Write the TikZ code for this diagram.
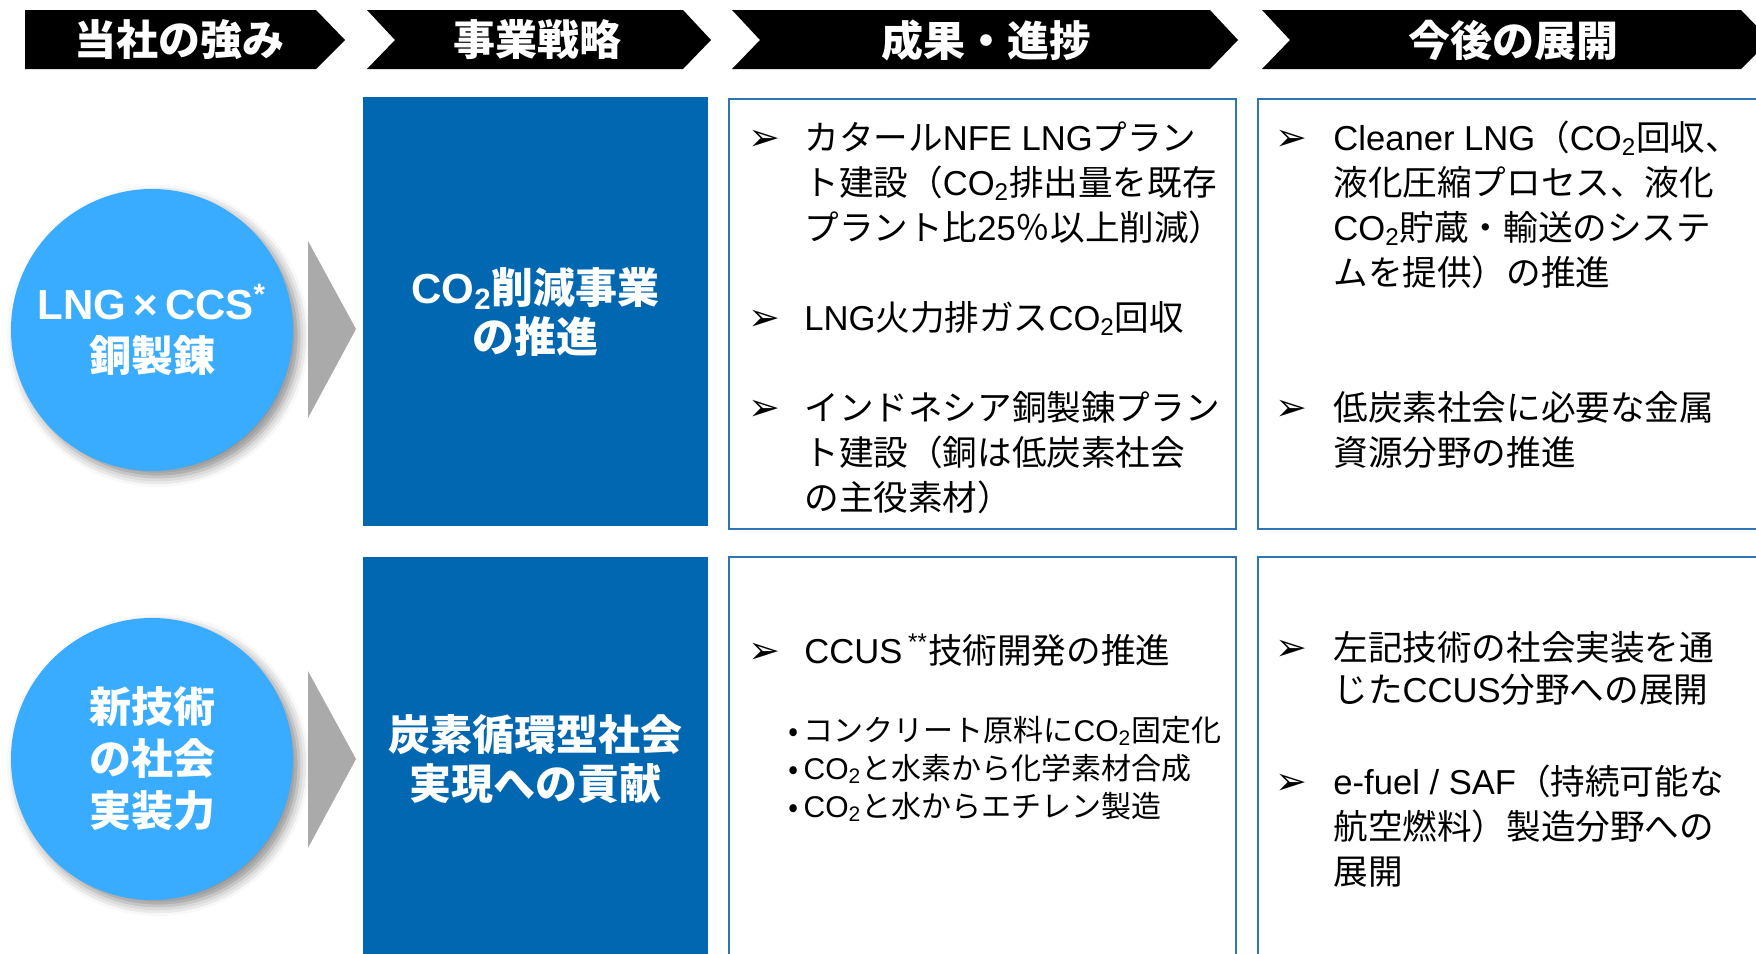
\documentclass[tikz,border=0pt]{standalone}
\usepackage{fontspec}
\setmainfont{Noto Sans CJK JP}
\newfontfamily\en{Liberation Sans}
\newfontfamily\dingfont{DejaVu Sans}
\usetikzlibrary{shadows.blur}
\definecolor{ballblue}{RGB}{58,172,255}
\definecolor{boxblue}{RGB}{0,103,176}
\definecolor{rimblue}{RGB}{46,117,182}
\definecolor{pointgray}{RGB}{170,170,170}
\newcommand{\cotwo}{{\en CO\textsubscript{2}}}
\tikzset{
  head/.style={text=white,font=\fontsize{21}{24}\selectfont\bfseries},
  ball/.style={circle,fill=ballblue,minimum size=141pt,text=white,align=center,
    font=\fontsize{21}{26}\selectfont\bfseries,
    blur shadow={shadow xshift=3pt,shadow yshift=-3pt,shadow blur radius=5pt,shadow opacity=45}},
  strat/.style={fill=boxblue,text=white,align=center,font=\fontsize{21}{24.5}\selectfont\bfseries},
  rim/.style={draw=rimblue,line width=1pt},
  % base of a multi-line node is its last line
  item/.style={anchor=base west,align=left,font=\fontsize{17.3}{22.5}\selectfont},
  arrowbul/.style={anchor=base,font=\dingfont\bfseries\fontsize{19}{20}\selectfont},
  sub/.style={anchor=base west,align=left,font=\fontsize{15}{19}\selectfont}
}
\begin{document}
\begin{tikzpicture}[x=0.5pt,y=-0.5pt,inner sep=0pt]
  \useasboundingbox (0,0) rectangle (1756,953);
  \clip (0,0) rectangle (1756,953);
  % header chevrons
  \fill (25,10) -- (316,10) -- (345,40) -- (316,69) -- (25,69) -- cycle;
  \fill (367,10) -- (683,10) -- (711,40) -- (683,69) -- (367,69) -- (395,40) -- cycle;
  \fill (732,10) -- (1210,10) -- (1238,40) -- (1210,69) -- (732,69) -- (760,40) -- cycle;
  \fill (1262,10) -- (1741,10) -- (1770,40) -- (1741,69) -- (1262,69) -- (1290,40) -- cycle;
  \path node (h1) [head] at (179,40) {当社の強み}
        node (h2) [head] at (537,40) {事業戦略}
        node (h3) [head] at (986,40) {成果・進捗}
        node (h4) [head] at (1513,40) {今後の展開};
  % strengths and strategy
  \node (s1) [ball] at (152,330) {{\en LNG\,×\,CCS\textsuperscript{*}}\\銅製錬};
  \node (s2) [ball] at (152,759) {新技術\\の社会\\実装力};
  \fill[pointgray] (308,241) -- (356,329) -- (308,418) -- cycle;
  \fill[pointgray] (308,671) -- (356,759) -- (308,848) -- cycle;
  \node (b1) [strat,minimum width=172.5pt,minimum height=214.5pt] at (535.5,311.5) {\cotwo{}削減事業\\の推進};
  \node (b2) [strat,minimum width=172.5pt,minimum height=202pt] at (535.5,759) {炭素循環型社会\\実現への貢献};
  % result and outlook boxes
  \draw[rim] (729,99) rectangle (1236,529);
  \draw[rim] (1258,99) rectangle (1770,529);
  \draw[rim] (729,557) rectangle (1236,970);
  \draw[rim] (1258,557) rectangle (1770,970);
  \path node (a1) [arrowbul] at (764,150) {➢}
        node (a2) [arrowbul] at (764,330) {➢}
        node (a3) [arrowbul] at (764,420) {➢}
        node (a4) [arrowbul] at (764,663) {➢}
        node (a5) [arrowbul] at (1291,150) {➢}
        node (a6) [arrowbul] at (1291,420) {➢}
        node (a7) [arrowbul] at (1291,660) {➢}
        node (a8) [arrowbul] at (1291,794) {➢};
  \node (p1) [item] at (804,240) {カタール{\en NFE LNG}プラン\\ト建設（\cotwo{}排出量を既存\\プラント比{\en 25}％以上削減）};
  \node (p2) [item] at (804,330) {{\en LNG}火力排ガス\cotwo{}回収};
  \node (p3) [item] at (804,510) {インドネシア銅製錬プラン\\ト建設（銅は低炭素社会\\の主役素材）};
  \node (p4) [item] at (804,663) {{\en CCUS\,\textsuperscript{**}}技術開発の推進};
  \node (p5) [sub] at (788,817) {•\,コンクリート原料に\cotwo{}固定化\\•\,\cotwo{}と水素から化学素材合成\\•\,\cotwo{}と水からエチレン製造};
  \node (q1) [item] at (1333,285) {{\en Cleaner LNG}（\cotwo{}回収、\\液化圧縮プロセス、液化\\\cotwo{}貯蔵・輸送のシステ\\ムを提供）の推進};
  \node (q2) [item] at (1333,465) {低炭素社会に必要な金属\\資源分野の推進};
  \node (q3) [item,font=\fontsize{17.3}{21}\selectfont] at (1333,702) {左記技術の社会実装を通\\じた{\en CCUS}分野への展開};
  \node (q4) [item] at (1333,884) {{\en e-fuel / SAF}（持続可能な\\航空燃料）製造分野への\\展開};
\end{tikzpicture}
\end{document}
